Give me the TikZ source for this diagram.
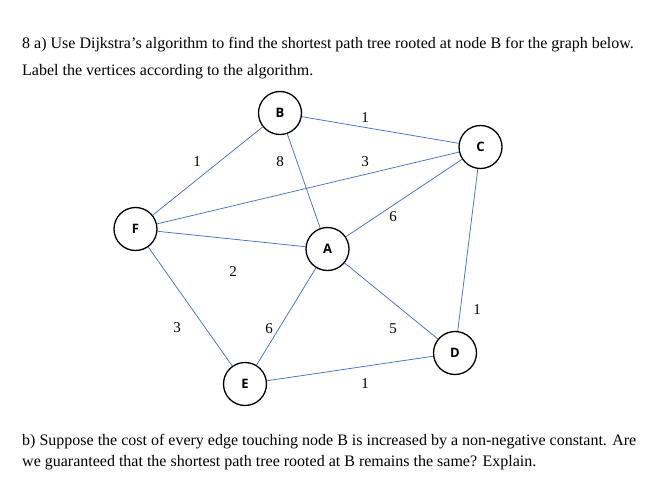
\documentclass[tikz,border=0pt]{standalone}
\usepackage{fontspec}
\setmainfont{Liberation Serif}
\newfontfamily\nodefont{Open Sans}
\begin{document}
\begin{tikzpicture}[x=1pt,y=-1pt,
  vert/.style={circle,draw=black,line width=1.3pt,minimum size=43pt,inner sep=0pt,font=\nodefont\bfseries\fontsize{13}{13}\selectfont},
  edge/.style={draw={rgb,255:red,68;green,114;blue,196},line width=0.75pt},
  wlab/.style={font=\fontsize{15}{15}\selectfont,inner sep=0pt},
  para/.style={anchor=base west,inner sep=0pt,font=\fontsize{16}{18}\selectfont}]
\useasboundingbox (0,0) rectangle (664,492);
\node[para] (t1) at (22,49) {8 a) Use Dijkstra’s algorithm to find the shortest path tree rooted at node B for the graph below.};
\node[para] (t2) at (22,76) {Label the vertices according to the algorithm.};
\node[para] (t3) at (22,445) {b) Suppose the cost of every edge touching node B is increased by a non-negative constant. Are};
\node[para] (t4) at (22,466) {we guaranteed that the shortest path tree rooted at B remains the same? Explain.};
\node[vert] (B) at (280,113) {B};
\node[vert] (C) at (480.5,147) {C};
\node[vert] (F) at (135.5,229) {F};
\node[vert] (A) at (327.5,249) {A};
\node[vert] (D) at (455,353) {D};
\node[vert] (E) at (245,384) {E};
\draw[edge] (B) -- (C);
\draw[edge] (B) -- (F);
\draw[edge] (B) -- (A);
\draw[edge] (F) -- (C);
\draw[edge] (A) -- (C);
\draw[edge] (F) -- (A);
\draw[edge] (F) -- (E);
\draw[edge] (A) -- (E);
\draw[edge] (A) -- (D);
\draw[edge] (C) -- (D);
\draw[edge] (E) -- (D);
\node[wlab] (lBC) at (365,118) {1};
\node[wlab] (lBF) at (197,162) {1};
\node[wlab] (lBA) at (280,162) {8};
\node[wlab] (lFC) at (365,162) {3};
\node[wlab] (lAC) at (393,217) {6};
\node[wlab] (lFA) at (233,272) {2};
\node[wlab] (lFE) at (177,328) {3};
\node[wlab] (lAE) at (269,329) {6};
\node[wlab] (lAD) at (393,329) {5};
\node[wlab] (lCD) at (477,310) {1};
\node[wlab] (lED) at (365,384) {1};
\end{tikzpicture}
\end{document}
